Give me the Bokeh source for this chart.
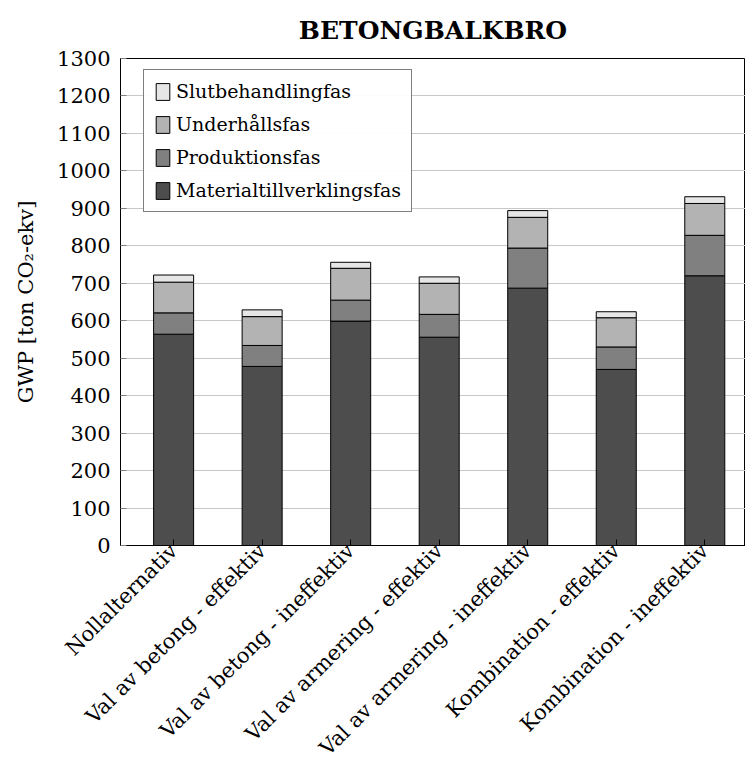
from bokeh.plotting import figure
from bokeh.models import Range1d, FixedTicker, Legend, LegendItem, ColumnDataSource
from bokeh.embed import file_html
from bokeh.resources import INLINE
import math

title_text = "BETONGBALKBRO"
categories = ["Nollalternativ", "Val av betong - effektiv", "Val av betong - ineffektiv",
              "Val av armering - effektiv", "Val av armering - ineffektiv",
              "Kombination - effektiv", "Kombination - ineffektiv"]
material = [564, 478, 599, 556, 687, 470, 720]
produktion = [57, 56, 56, 61, 107, 60, 108]
underhall = [82, 77, 85, 83, 82, 78, 85]
slut = [19, 18, 16, 17, 18, 16, 18]
series_names = ["Materialtillverklingsfas", "Produktionsfas", "Underhållsfas", "Slutbehandlingfas"]
series_colors = ["#4d4d4d", "#808080", "#b3b3b3", "#e6e6e6"]
y_ticks = list(range(0, 1301, 100))

FONT = "DejaVu Serif"

xs = list(range(len(categories)))
data = dict(x=xs, material=material, produktion=produktion, underhall=underhall, slut=slut)
src = ColumnDataSource(data)

p = figure(width=745, height=771, output_backend="svg", toolbar_location=None,
           x_range=Range1d(-0.6, 6.46), y_range=Range1d(0, 1300),
           title=title_text, min_border_left=120, min_border_right=0,
           min_border_top=58, min_border_bottom=0)

p.title.align = "center"
p.title.offset = 5
p.title.text_font = FONT
p.title.text_font_size = "25px"
p.title.text_font_style = "bold"
p.title.text_color = "black"
p.title.standoff = 27

renderers = p.vbar_stack(["material", "produktion", "underhall", "slut"], x="x", width=0.452,
                         source=src, fill_color=series_colors, line_color="black", line_width=1)

p.outline_line_color = "black"
p.outline_line_width = 1

p.xgrid.visible = False
p.ygrid.grid_line_color = "#c8c8c8"
p.ygrid.grid_line_width = 1
p.ygrid.ticker = FixedTicker(ticks=y_ticks)

xa = p.xaxis[0]
xa.ticker = FixedTicker(ticks=xs)
xa.major_label_overrides = {i: c for i, c in enumerate(categories)}
xa.major_label_orientation = math.pi / 4
xa.major_label_text_font = FONT
xa.major_label_text_font_size = "21px"
xa.major_label_text_color = "black"
xa.major_tick_in = 6
xa.major_tick_out = 0
xa.minor_tick_line_color = None
xa.axis_line_color = "black"
xa.major_label_standoff = 2

ya = p.yaxis[0]
ya.ticker = FixedTicker(ticks=y_ticks)
ya.major_label_text_font = FONT
ya.major_label_text_font_size = "21px"
ya.major_label_text_color = "black"
ya.major_tick_in = 6
ya.major_tick_out = 0
ya.major_tick_line_color = "#808080"
ya.minor_tick_line_color = None
ya.axis_line_color = "black"
ya.major_label_standoff = 10
ya.axis_label = "GWP [ton CO₂-ekv]"
ya.axis_label_text_font = FONT
ya.axis_label_text_font_size = "21px"
ya.axis_label_text_font_style = "normal"
ya.axis_label_text_color = "black"
ya.axis_label_standoff = 16

items = [LegendItem(label=series_names[i], renderers=[renderers[i]]) for i in [3, 2, 1, 0]]
legend = Legend(items=items, location=(23, 333))
legend.label_text_font = FONT
legend.label_text_font_size = "19px"
legend.label_text_color = "black"
legend.glyph_width = 17
legend.glyph_height = 21
legend.label_height = 21
legend.spacing = 11
legend.padding = 10
legend.margin = 0
legend.border_line_color = "black"
legend.border_line_width = 1
legend.label_standoff = 5
p.add_layout(legend, "center")

open("out.html", "w").write(file_html(p, INLINE))
